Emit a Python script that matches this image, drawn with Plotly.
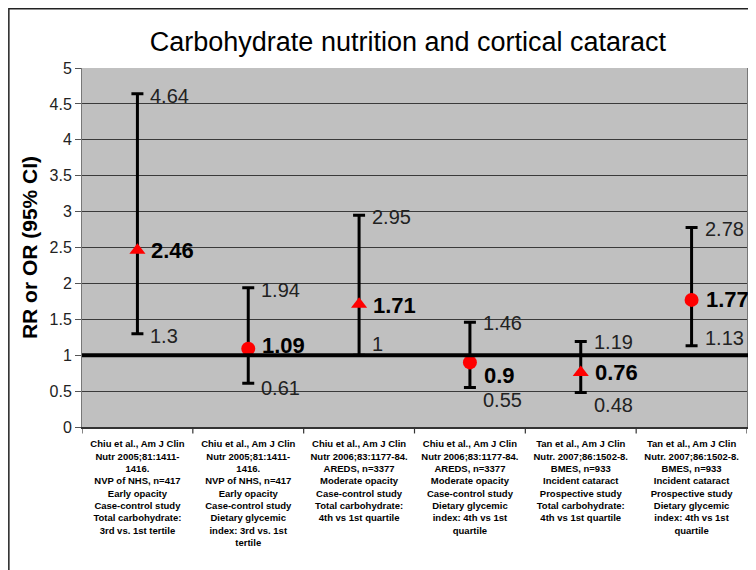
import plotly.graph_objects as go

# studies (x-axis categories)
studies = [
    "Chiu et al., Am J Clin<br>Nutr 2005;81:1411-<br>1416.<br>NVP of NHS, n=417<br>Early opacity<br>Case-control study<br>Total carbohydrate:<br>3rd vs. 1st tertile",
    "Chiu et al., Am J Clin<br>Nutr 2005;81:1411-<br>1416.<br>NVP of NHS, n=417<br>Early opacity<br>Case-control study<br>Dietary glycemic<br>index: 3rd vs. 1st<br>tertile",
    "Chiu et al., Am J Clin<br>Nutr 2006;83:1177-84.<br>AREDS, n=3377<br>Moderate opacity<br>Case-control study<br>Total carbohydrate:<br>4th vs 1st quartile",
    "Chiu et al., Am J Clin<br>Nutr 2006;83:1177-84.<br>AREDS, n=3377<br>Moderate opacity<br>Case-control study<br>Dietary glycemic<br>index: 4th vs 1st<br>quartile",
    "Tan et al., Am J Clin<br>Nutr. 2007;86:1502-8.<br>BMES, n=933<br>Incident cataract<br>Prospective study<br>Total carbohydrate:<br>4th vs 1st quartile",
    "Tan et al., Am J Clin<br>Nutr. 2007;86:1502-8.<br>BMES, n=933<br>Incident cataract<br>Prospective study<br>Dietary glycemic<br>index: 4th vs 1st<br>quartile",
]
estimate = [2.46, 1.09, 1.71, 0.9, 0.76, 1.77]
ci_low = [1.3, 0.61, 1, 0.55, 0.48, 1.13]
ci_high = [4.64, 1.94, 2.95, 1.46, 1.19, 2.78]
symbols = ["triangle-up", "circle", "triangle-up", "circle", "triangle-up", "circle"]

# label nudges (pixels) so numbers dodge the reference line
est_shift = [0, 3, -1, -13, 0, 0]
low_shift = [-2, -5, 11, -12, -12, 8]
high_shift = [-2, -2, -2, -1, 0, -2]

xs = list(range(len(studies)))

fig = go.Figure()
fig.add_trace(go.Scatter(
    x=xs, y=estimate,
    mode="markers",
    marker=dict(symbol=symbols, size=14, color="#FF0000", line=dict(width=0)),
    error_y=dict(
        type="data", symmetric=False,
        array=[h - e for h, e in zip(ci_high, estimate)],
        arrayminus=[e - l for e, l in zip(estimate, ci_low)],
        color="black", thickness=3, width=6,
    ),
    showlegend=False,
))

annotations = []
for i in xs:
    annotations.append(dict(
        x=i, y=estimate[i], text=f"<b>{estimate[i]:g}</b>",
        xanchor="left", yanchor="middle", xshift=12, yshift=est_shift[i],
        showarrow=False, font=dict(size=22, color="black"),
    ))
    annotations.append(dict(
        x=i, y=ci_high[i], text=f"{ci_high[i]:g}",
        xanchor="left", yanchor="middle", xshift=11, yshift=high_shift[i],
        showarrow=False, font=dict(size=20, color="#222222"),
    ))
    annotations.append(dict(
        x=i, y=ci_low[i], text=f"{ci_low[i]:g}",
        xanchor="left", yanchor="middle", xshift=11, yshift=low_shift[i],
        showarrow=False, font=dict(size=20, color="#222222"),
    ))

# page body adds an 8px offset, margins compensate for it
fig.update_layout(
    width=756, height=570,
    margin=dict(l=74, r=17, t=60, b=151),
    paper_bgcolor="white",
    plot_bgcolor="#C0C0C0",
    font=dict(family="Arial, Liberation Sans, sans-serif", color="black"),
    title=dict(
        text="Carbohydrate nutrition and cortical cataract",
        x=0.529, xanchor="center", y=1 - 34 / 570, yanchor="middle",
        font=dict(size=27, color="black"),
    ),
    annotations=annotations,
    shapes=[
        # reference line at 1
        dict(type="line", xref="paper", x0=0, x1=1.005, yref="y", y0=1, y1=1,
             line=dict(color="black", width=4)),
        # outer frame of the slide
        dict(type="rect", xref="paper", yref="paper", x0=-0.11, x1=1.2, y0=-0.6, y1=1.165,
             line=dict(color="#222222", width=1.5), layer="below"),
    ],
)

fig.update_xaxes(
    range=[-0.5, 5.5], automargin=False,
    tickmode="array", tickvals=xs, ticktext=[f"<b>{s}</b>" for s in studies],
    tickfont=dict(size=9.5, color="black", family="Liberation Sans, Arial"),
    tickangle=0, ticklabelstandoff=7,
    showgrid=False, zeroline=False,
    showline=True, linecolor="#333333", linewidth=1.5,
    ticks="", mirror=False,
)
# boundary tick marks between categories
for b in [i + 0.5 for i in range(-1, len(studies))]:
    fig.add_shape(type="line", xref="x", yref="paper", x0=b, x1=b, y0=0, y1=-0.018,
                  line=dict(color="#333333", width=1.2))

fig.update_yaxes(
    range=[0, 5], dtick=0.5, automargin=False,
    tickfont=dict(size=16, color="#222222"),
    showgrid=True, gridcolor="#3a3a3a", gridwidth=1,
    zeroline=False,
    showline=True, linecolor="#777777", linewidth=1, mirror=True,
    ticks="outside", ticklen=6, tickcolor="#555555",
    title=dict(text="<b>RR or OR (95% CI)</b>", font=dict(size=21, color="black"), standoff=6),
)

fig.write_html("out.html")
